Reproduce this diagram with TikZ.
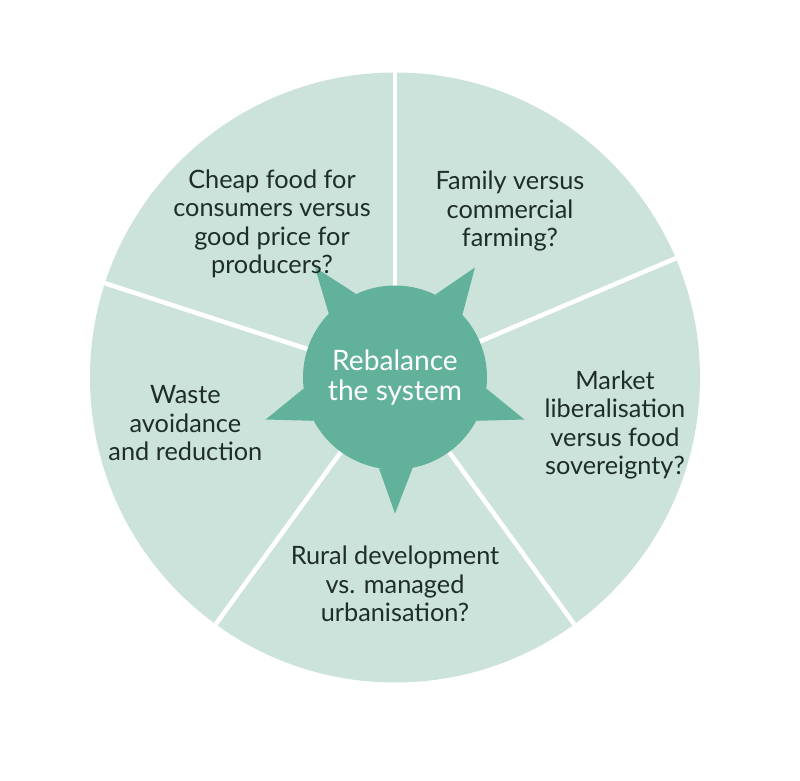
\documentclass[tikz,border=0pt]{standalone}
\usepackage{fontspec}
\setmainfont{Lato}
\usepackage{tikz}
\usetikzlibrary{positioning,calc}
\definecolor{sectorgreen}{RGB}{204,227,219}
\definecolor{hubgreen}{RGB}{98,177,155}
\definecolor{textdark}{RGB}{30,45,40}

\begin{document}
\begin{tikzpicture}[
  font=\fontsize{18}{20.3}\selectfont,
  sector/.style={fill=sectorgreen},
  sep/.style={draw=white, line width=3.2pt},
  hub/.style={circle, fill=hubgreen, minimum size=4.6cm, inner sep=0pt, align=center, text=white, font=\fontsize{20}{21.5}\selectfont},
  spike/.style={fill=hubgreen},
  lbl/.style={align=center, text=textdark, inner sep=0pt},
  ]
  \useasboundingbox (-9.875,-10.0875) rectangle (10.125,9.4375);
  % outer disc and white separators
  \coordinate (c) at (0,0);
  \fill[sector] (c) circle (7.625);
  \foreach \a in {90,162,234,306,23}
    \draw[sep] (c) -- (\a:7.625);
  % hub with five spikes
  \node[hub] (hub) at (c) {Rebalance\\the system};
  \foreach \a [evaluate=\a as \lo using \a-10.5, evaluate=\a as \hi using \a+10.5] in {126,54,-18,-90,198}
    \fill[spike] (hub.\lo) -- (\a:3.4) -- (hub.\hi) -- cycle;
  % sector labels
  \node[lbl] (cheap) at (-3.075,3.84) {Cheap food for\\consumers versus\\good price for\\producers?};
  \node[lbl] (family) at (2.875,4.16) {Family versus\\commercial\\farming?};
  \node[lbl] (market) at (5.5,-1.19) {Market\\liberalisation\\versus food\\sovereignty?};
  \node[lbl] (rural) at (0,-5.16) {Rural development\\vs. managed\\urbanisation?};
  \node[lbl] (waste) at (-5.24,-1.14) {Waste\\avoidance\\and reduction};
\end{tikzpicture}
\end{document}
